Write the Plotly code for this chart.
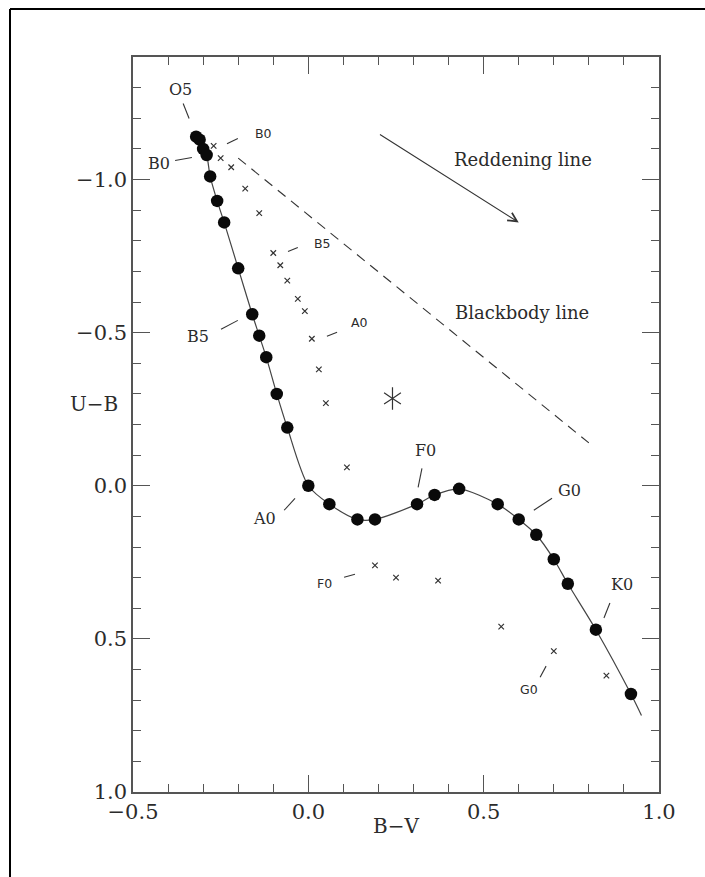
import plotly.graph_objects as go

# --- Two-colour diagram data (B-V, U-B) ---------------------------------
# Main-sequence dwarfs (filled circles)
bv_ms = [-0.32, -0.31, -0.30, -0.29, -0.28, -0.26, -0.24, -0.20, -0.16, -0.14,
         -0.12, -0.09, -0.06, 0.00, 0.06, 0.14, 0.19, 0.31, 0.36, 0.43,
         0.54, 0.60, 0.65, 0.70, 0.74, 0.82, 0.92]
ub_ms = [-1.14, -1.13, -1.10, -1.08, -1.01, -0.93, -0.86, -0.71, -0.56, -0.49,
         -0.42, -0.30, -0.19, 0.00, 0.06, 0.11, 0.11, 0.06, 0.03, 0.01,
         0.06, 0.11, 0.16, 0.24, 0.32, 0.47, 0.68]

# Smooth main-sequence locus, carried a little past the coolest dwarf
curve_tail_bv = [0.95]
curve_tail_ub = [0.75]

# Supergiants (small crosses)
bv_sg = [-0.27, -0.25, -0.22, -0.18, -0.14, -0.10, -0.08, -0.06, -0.03, -0.01,
         0.01, 0.03, 0.05, 0.11, 0.19, 0.25, 0.37, 0.55, 0.70, 0.85]
ub_sg = [-1.11, -1.07, -1.04, -0.97, -0.89, -0.76, -0.72, -0.67, -0.61, -0.57,
         -0.48, -0.38, -0.27, -0.06, 0.26, 0.30, 0.31, 0.46, 0.54, 0.62]

# Single observed star (asterisk)
star_bv = [0.24]
star_ub = [-0.285]

# Blackbody line end points
bb_bv = [-0.20, 0.80]
bb_ub = [-1.07, -0.14]

# Reddening vector (tail, head)
redden_bv = [0.20, 0.60]
redden_ub = [-1.15, -0.86]

# Spectral-type labels for the dwarfs: text, position, leader start/end
dwarf_text = ["O5", "B0", "B5", "A0", "F0", "G0", "K0"]
dwarf_bv = [-0.365, -0.426, -0.315, -0.126, 0.335, 0.746, 0.894]
dwarf_ub = [-1.295, -1.052, -0.488, 0.106, -0.116, 0.015, 0.324]
dwarf_lead_bv = [(-0.357, -0.340), (-0.380, -0.332), (-0.249, -0.201),
                 (-0.069, -0.038), (0.324, 0.313), (0.643, 0.695), (0.843, 0.860)]
dwarf_lead_ub = [(-1.248, -1.199), (-1.062, -1.072), (-0.511, -0.540),
                 (0.080, 0.041), (-0.057, 0.005), (0.080, 0.041), (0.432, 0.383)]

# Spectral-type labels for the supergiants
sg_text = ["B0", "B5", "A0", "F0", "G0"]
sg_bv = [-0.129, 0.039, 0.147, 0.047, 0.629]
sg_ub = [-1.150, -0.791, -0.533, 0.318, 0.664]
sg_lead_bv = [(-0.232, -0.201), (-0.058, -0.030), (0.053, 0.082),
              (0.102, 0.133), (0.661, 0.678)]
sg_lead_ub = [(-1.117, -1.134), (-0.765, -0.778), (-0.488, -0.501),
              (0.299, 0.289), (0.625, 0.589)]

# Line labels
line_text = ["Reddening line", "Blackbody line"]
line_bv = [0.612, 0.609]
line_ub = [-1.065, -0.566]

x_ticks = [-0.5, 0.0, 0.5, 1.0]
x_ticktext = ["\u22120.5", "0.0", "0.5", "1.0"]
y_ticks = [-1.0, -0.5, 0.0, 0.5, 1.0]
y_ticktext = ["\u22121.0", "\u22120.5", "0.0", "0.5", "1.0"]

# --- Figure geometry -----------------------------------------------------
W, H = 705, 877
ML, MR, MT, MB = 133, 46, 57, 85
PW, PH = W - ML - MR, H - MT - MB


def px_x(px):
    return (px - ML) / PW


def px_y(py):
    return (H - MB - py) / PH


INK = "#2b2b2b"
MARK = "#333333"
AXIS = "#555555"
SERIF = "DejaVu Serif"
SANS = "DejaVu Sans"


def segments(bvs, ubs):
    xs, ys = [], []
    for (x0, x1), (y0, y1) in zip(bvs, ubs):
        xs += [x0, x1, None]
        ys += [y0, y1, None]
    return xs, ys


fig = go.Figure()

# Main-sequence locus
fig.add_trace(go.Scatter(
    x=bv_ms + curve_tail_bv, y=ub_ms + curve_tail_ub, mode="lines",
    line=dict(color="#444444", width=1.2, shape="spline", smoothing=0.8),
    hoverinfo="skip"))

# Blackbody line
fig.add_trace(go.Scatter(
    x=bb_bv, y=bb_ub, mode="lines",
    line=dict(color=MARK, width=1.1, dash="10px,7px"),
    hoverinfo="skip"))

# Leader lines for the labels
lx1, ly1 = segments(dwarf_lead_bv, dwarf_lead_ub)
lx2, ly2 = segments(sg_lead_bv, sg_lead_ub)
fig.add_trace(go.Scatter(
    x=lx1 + lx2, y=ly1 + ly2, mode="lines",
    line=dict(color=MARK, width=1.1), hoverinfo="skip"))

# Supergiants
fig.add_trace(go.Scatter(
    x=bv_sg, y=ub_sg, mode="markers",
    marker=dict(symbol="x-thin-open", size=5.5, color=MARK,
                line=dict(color=MARK, width=1.2)),
    hoverinfo="skip"))

# Dwarfs
fig.add_trace(go.Scatter(
    x=bv_ms, y=ub_ms, mode="markers",
    marker=dict(symbol="circle", size=12.5, color="#0a0a0a",
                line=dict(width=0)),
    hoverinfo="skip"))

# Asterisk: two three-armed symbols give a six-armed star
for sym in ("y-up-open", "y-down-open"):
    fig.add_trace(go.Scatter(
        x=star_bv, y=star_ub, mode="markers",
        marker=dict(symbol=sym, size=14, color=MARK,
                    line=dict(color=MARK, width=1.2)),
        hoverinfo="skip"))

annotations = []
for t, x, y in zip(dwarf_text, dwarf_bv, dwarf_ub):
    annotations.append(dict(x=x, y=y, xref="x", yref="y", text=t,
                            showarrow=False,
                            font=dict(family=SERIF, size=16, color=INK)))
for t, x, y in zip(sg_text, sg_bv, sg_ub):
    annotations.append(dict(x=x, y=y, xref="x", yref="y", text=t,
                            showarrow=False,
                            font=dict(family=SANS, size=12.5, color=INK)))
for t, x, y in zip(line_text, line_bv, line_ub):
    annotations.append(dict(x=x, y=y, xref="x", yref="y", text=t,
                            showarrow=False,
                            font=dict(family=SERIF, size=18, color=INK)))

# Reddening arrow
annotations.append(dict(
    x=redden_bv[1], y=redden_ub[1], ax=redden_bv[0], ay=redden_ub[0],
    xref="x", yref="y", axref="x", ayref="y", text="",
    showarrow=True, arrowhead=5, arrowsize=1.6, arrowwidth=1.1,
    arrowcolor=MARK))

# Axis titles (horizontal, as in the printed figure)
annotations.append(dict(x=px_x(396), y=px_y(840), xref="paper", yref="paper",
                        text="B\u2212V", showarrow=False,
                        font=dict(family=SERIF, size=20, color=INK)))
annotations.append(dict(x=px_x(68), y=px_y(404), xref="paper", yref="paper",
                        text="U\u2212B", showarrow=False,
                        font=dict(family=SERIF, size=20, color=INK)))

axis_common = dict(
    showgrid=False, zeroline=False, showline=True, linecolor=AXIS,
    linewidth=1.5, mirror="ticks", ticks="inside", ticklen=17,
    tickwidth=1.3, tickcolor=AXIS,
    tickfont=dict(family=SERIF, size=21, color=INK),
    minor=dict(ticks="inside", ticklen=8, tickwidth=1.2, tickcolor=AXIS,
               dtick=0.1, showgrid=False),
)

fig.update_layout(
    width=W, height=H,
    margin=dict(l=ML, r=MR, t=MT, b=MB),
    paper_bgcolor="white", plot_bgcolor="white",
    showlegend=False,
    xaxis=dict(range=[-0.5, 1.0], tickvals=x_ticks, ticktext=x_ticktext,
               tick0=-0.5, **axis_common),
    yaxis=dict(range=[1.0, -1.4], tickvals=y_ticks, ticktext=y_ticktext,
               tick0=-1.0, **axis_common),
    annotations=annotations,
    shapes=[
        # outer frame (top and left edges fall inside the page)
        dict(type="line", xref="paper", yref="paper",
             x0=px_x(10), y0=px_y(9), x1=px_x(715), y1=px_y(9),
             line=dict(color="black", width=2)),
        dict(type="line", xref="paper", yref="paper",
             x0=px_x(10), y0=px_y(9), x1=px_x(10), y1=px_y(885),
             line=dict(color="black", width=2)),
    ],
)

fig.write_html("out.html")
